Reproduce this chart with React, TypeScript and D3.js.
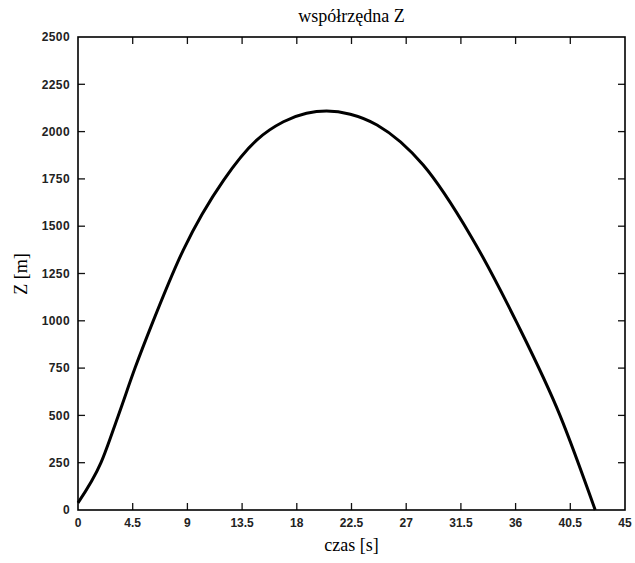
import React, { useEffect, useRef } from "react";
import * as d3 from "d3";

// czas [s]
const czas = [0, 1.89, 3.32, 4.69, 6.1, 8.66, 12.0, 14.7, 16.9, 18.8, 20.45, 22.4, 24.6, 28.4, 32.3, 36.1, 39.65, 42.55];
// Z [m]
const wspZ = [38, 250, 500, 750, 985, 1374, 1745, 1955, 2052, 2097, 2109, 2092, 2035, 1823, 1450, 990, 500, 0];

const xTicks = [0, 4.5, 9, 13.5, 18, 22.5, 27, 31.5, 36, 40.5, 45];
const yTicks = [0, 250, 500, 750, 1000, 1250, 1500, 1750, 2000, 2250, 2500];

const W = 635;
const H = 563;

const App = () => {
  const svg = useRef<SVGSVGElement>(null);

  useEffect(() => {
    const margin = { top: 37, right: 10, bottom: 53, left: 78 };
    const width = W - margin.left - margin.right;
    const height = H - margin.top - margin.bottom;

    const root = d3.select(svg.current);
    root.selectAll("*").remove();

    const x = d3.scaleLinear().domain([0, 45]).range([0, width]);
    const y = d3.scaleLinear().domain([0, 2500]).range([height, 0]);

    const g = root
      .append("g")
      .attr("transform", `translate(${margin.left}, ${margin.top})`);

    const tickFont = "'Liberation Sans', Arial, sans-serif";
    const tl = 7;

    // ticks, inward on all sides
    const inner = xTicks.filter((d) => d > 0 && d < 45);
    g.selectAll(".xtb")
      .data(inner)
      .enter()
      .append("line")
      .attr("x1", (d) => x(d))
      .attr("x2", (d) => x(d))
      .attr("y1", height)
      .attr("y2", height - tl)
      .attr("stroke", "#111")
      .attr("stroke-width", 1.3);
    g.selectAll(".xtt")
      .data(inner)
      .enter()
      .append("line")
      .attr("x1", (d) => x(d))
      .attr("x2", (d) => x(d))
      .attr("y1", 0)
      .attr("y2", tl)
      .attr("stroke", "#111")
      .attr("stroke-width", 1.3);

    const innerY = yTicks.filter((d) => d > 0 && d < 2500);
    g.selectAll(".ytl")
      .data(innerY)
      .enter()
      .append("line")
      .attr("x1", 0)
      .attr("x2", tl)
      .attr("y1", (d) => y(d))
      .attr("y2", (d) => y(d))
      .attr("stroke", "#111")
      .attr("stroke-width", 1.3);
    g.selectAll(".ytr")
      .data(innerY)
      .enter()
      .append("line")
      .attr("x1", width)
      .attr("x2", width - tl)
      .attr("y1", (d) => y(d))
      .attr("y2", (d) => y(d))
      .attr("stroke", "#111")
      .attr("stroke-width", 1.3);

    // tick labels
    g.selectAll(".xl")
      .data(xTicks)
      .enter()
      .append("text")
      .attr("x", (d) => x(d))
      .attr("y", height + 17)
      .attr("text-anchor", "middle")
      .attr("font-family", tickFont)
      .attr("font-weight", "bold")
      .attr("font-size", 12)
      .attr("fill", "#222")
      .text((d) => String(d));

    g.selectAll(".yl")
      .data(yTicks)
      .enter()
      .append("text")
      .attr("x", -8)
      .attr("y", (d) => y(d))
      .attr("dy", "0.35em")
      .attr("text-anchor", "end")
      .attr("font-family", tickFont)
      .attr("font-weight", "bold")
      .attr("font-size", 12)
      .attr("letter-spacing", 0.4)
      .attr("fill", "#222")
      .text((d) => String(d));

    // frame
    g.append("rect")
      .attr("x", 0)
      .attr("y", 0)
      .attr("width", width)
      .attr("height", height)
      .attr("fill", "none")
      .attr("stroke", "#000")
      .attr("stroke-width", 1.6);

    // curve
    const pts = czas.map((t, i) => [t, wspZ[i]] as [number, number]);
    g.append("path")
      .datum(pts)
      .attr("fill", "none")
      .attr("stroke", "#000")
      .attr("stroke-width", 3)
      .attr("stroke-linejoin", "round")
      .attr(
        "d",
        d3
          .line<[number, number]>()
          .x((d) => x(d[0]))
          .y((d) => y(d[1]))
          .curve(d3.curveMonotoneX)
      );

    const serif = "'Liberation Serif', 'Times New Roman', serif";
    // title
    root
      .append("text")
      .attr("x", margin.left + width / 2)
      .attr("y", 22)
      .attr("text-anchor", "middle")
      .attr("font-family", serif)
      .attr("font-size", 18)
      .text("współrzędna Z");

    root
      .append("text")
      .attr("x", margin.left + width / 2)
      .attr("y", 551)
      .attr("text-anchor", "middle")
      .attr("font-family", serif)
      .attr("font-size", 18)
      .text("czas [s]");

    root
      .append("text")
      .attr("transform", `translate(27, 274) rotate(-90)`)
      .attr("text-anchor", "middle")
      .attr("font-family", serif)
      .attr("font-size", 18)
      .text("Z [m]");
  }, []);

  return (
    <svg
      ref={svg}
      width={W}
      height={H}
      style={{ position: "absolute", left: 0, top: 0, background: "#fff" }}
    />
  );
};

export default App;
